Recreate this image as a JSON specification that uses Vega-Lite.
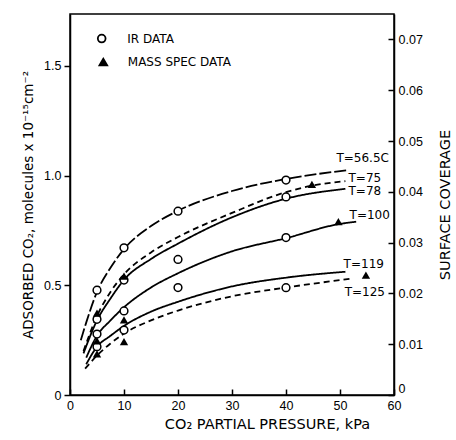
{
  "$schema": "https://vega.github.io/schema/vega-lite/v6.json",
  "width": 324,
  "height": 381,
  "autosize": "none",
  "padding": {"left": 70, "top": 14, "right": 62, "bottom": 45},
  "background": "white",
  "config": {
    "view": {"stroke": "black", "strokeWidth": 1.5},
    "axis": {
      "domainColor": "black", "domainWidth": 1.5, "tickColor": "black", "tickWidth": 1.5,
      "labelColor": "black", "titleColor": "black", "labelFont": "Liberation Sans",
      "titleFont": "DejaVu Sans", "titleFontWeight": "normal", "labelFontSize": 12.5,
      "titleFontSize": 13.5, "grid": false
    },
    "text": {"font": "DejaVu Sans", "color": "black"}
  },
  "datasets": {
    "curves": [
      {"T": "56.5", "x": 2, "y": 0.25}, {"T": "56.5", "x": 3, "y": 0.33}, {"T": "56.5", "x": 5, "y": 0.47},
      {"T": "56.5", "x": 7.5, "y": 0.58}, {"T": "56.5", "x": 10, "y": 0.665}, {"T": "56.5", "x": 15, "y": 0.77},
      {"T": "56.5", "x": 20, "y": 0.84}, {"T": "56.5", "x": 30, "y": 0.93}, {"T": "56.5", "x": 40, "y": 0.985},
      {"T": "56.5", "x": 51.5, "y": 1.025},
      {"T": "75", "x": 2.5, "y": 0.2}, {"T": "75", "x": 5, "y": 0.36}, {"T": "75", "x": 7.5, "y": 0.47},
      {"T": "75", "x": 10, "y": 0.55}, {"T": "75", "x": 15, "y": 0.65}, {"T": "75", "x": 20, "y": 0.72},
      {"T": "75", "x": 30, "y": 0.83}, {"T": "75", "x": 40, "y": 0.925}, {"T": "75", "x": 45, "y": 0.955},
      {"T": "75", "x": 51, "y": 0.975},
      {"T": "78", "x": 2.5, "y": 0.19}, {"T": "78", "x": 5, "y": 0.34}, {"T": "78", "x": 7.5, "y": 0.44},
      {"T": "78", "x": 10, "y": 0.525}, {"T": "78", "x": 15, "y": 0.62}, {"T": "78", "x": 20, "y": 0.69},
      {"T": "78", "x": 30, "y": 0.81}, {"T": "78", "x": 40, "y": 0.895}, {"T": "78", "x": 51, "y": 0.94},
      {"T": "100", "x": 3, "y": 0.17}, {"T": "100", "x": 5, "y": 0.27}, {"T": "100", "x": 7.5, "y": 0.34},
      {"T": "100", "x": 10, "y": 0.4}, {"T": "100", "x": 15, "y": 0.49}, {"T": "100", "x": 20, "y": 0.555},
      {"T": "100", "x": 30, "y": 0.655}, {"T": "100", "x": 40, "y": 0.715}, {"T": "100", "x": 50, "y": 0.78},
      {"T": "100", "x": 53, "y": 0.79},
      {"T": "119", "x": 3, "y": 0.14}, {"T": "119", "x": 5, "y": 0.22}, {"T": "119", "x": 7.5, "y": 0.27},
      {"T": "119", "x": 10, "y": 0.315}, {"T": "119", "x": 15, "y": 0.38}, {"T": "119", "x": 20, "y": 0.425},
      {"T": "119", "x": 30, "y": 0.495}, {"T": "119", "x": 40, "y": 0.535}, {"T": "119", "x": 51, "y": 0.562},
      {"T": "125", "x": 2.8, "y": 0.12}, {"T": "125", "x": 5, "y": 0.18}, {"T": "125", "x": 7.5, "y": 0.235},
      {"T": "125", "x": 10, "y": 0.28}, {"T": "125", "x": 15, "y": 0.34}, {"T": "125", "x": 20, "y": 0.385},
      {"T": "125", "x": 30, "y": 0.45}, {"T": "125", "x": 40, "y": 0.49}, {"T": "125", "x": 52, "y": 0.53}
    ],
    "ir": [
      {"x": 5, "y": 0.478}, {"x": 5, "y": 0.345}, {"x": 5, "y": 0.278}, {"x": 5, "y": 0.22},
      {"x": 10, "y": 0.671}, {"x": 10, "y": 0.524}, {"x": 10, "y": 0.383}, {"x": 10, "y": 0.296},
      {"x": 20, "y": 0.838}, {"x": 20, "y": 0.618}, {"x": 20, "y": 0.49},
      {"x": 40, "y": 0.98}, {"x": 40, "y": 0.903}, {"x": 40, "y": 0.718}, {"x": 40, "y": 0.489}
    ],
    "ms": [
      {"x": 5, "y": 0.373}, {"x": 5, "y": 0.247}, {"x": 5, "y": 0.187},
      {"x": 10, "y": 0.542}, {"x": 10, "y": 0.342}, {"x": 10, "y": 0.243},
      {"x": 44.8, "y": 0.96}, {"x": 49.7, "y": 0.79}, {"x": 54.8, "y": 0.547}
    ],
    "labels": [
      {"x": 54.2, "y": 1.08, "t": "T=56.5C"},
      {"x": 54.6, "y": 0.989, "t": "T=75"},
      {"x": 54.6, "y": 0.931, "t": "T=78"},
      {"x": 55.5, "y": 0.82, "t": "T=100"},
      {"x": 54.4, "y": 0.597, "t": "T=119"},
      {"x": 54.6, "y": 0.471, "t": "T=125"}
    ],
    "legend": [
      {"x": 5.87, "y": 1.625, "shape": "circle"},
      {"x": 6.17, "y": 1.518, "shape": "triangle-up"}
    ],
    "legendtext": [
      {"x": 10.6, "y": 1.625, "t": "IR DATA"},
      {"x": 10.7, "y": 1.518, "t": "MASS SPEC DATA"}
    ],
    "cov": [{"c": 0}, {"c": 0.075}]
  },
  "layer": [
    {
      "encoding": {
        "x": {"field": "x", "type": "quantitative", "scale": {"domain": [0, 60], "nice": false},
          "axis": {"title": "CO₂ PARTIAL PRESSURE, kPa", "values": [0, 10, 20, 30, 40, 50, 60],
            "tickSize": -6, "labelPadding": 10, "titlePadding": 6, "titleX": 197, "titleFontSize": 14.5, "labelFlush": false}},
        "y": {"field": "y", "type": "quantitative", "scale": {"domain": [0, 1.737], "nice": false},
          "axis": {"title": "ADSORBED CO₂, molecules x 10⁻¹⁵cm⁻²", "values": [0, 0.5, 1, 1.5],
            "labelExpr": "datum.value == 0 ? '0' : format(datum.value, '.1f')",
            "tickSize": 6, "labelPadding": 3, "titlePadding": 8, "labelFlush": false}}
      },
      "layer": [
        {
          "data": {"name": "curves"},
          "mark": {"type": "line", "interpolate": "monotone", "color": "black", "strokeWidth": 1.8},
          "encoding": {
            "detail": {"field": "T"},
            "strokeDash": {"field": "T", "type": "nominal", "legend": null,
              "scale": {"domain": ["56.5", "75", "78", "100", "119", "125"],
                "range": [[12, 3], [6, 4], [1, 0], [1, 0], [1, 0], [6, 4]]}},
            "order": {"field": "x", "type": "quantitative"}
          }
        },
        {
          "data": {"name": "ir"},
          "mark": {"type": "point", "shape": "circle", "filled": true, "fill": "white", "stroke": "black", "strokeWidth": 1.5, "size": 60, "opacity": 1}
        },
        {
          "data": {"name": "ms"},
          "mark": {"type": "point", "shape": "triangle-up", "filled": true, "color": "black", "size": 70, "opacity": 1}
        },
        {
          "data": {"name": "labels"},
          "mark": {"type": "text", "fontSize": 12, "align": "center", "baseline": "middle"},
          "encoding": {"text": {"field": "t"}}
        },
        {
          "data": {"name": "legend"},
          "mark": {"type": "point", "strokeWidth": 1.8, "size": 60, "opacity": 1, "stroke": "black"},
          "encoding": {
            "shape": {"field": "shape", "type": "nominal", "scale": null, "legend": null},
            "fill": {"condition": {"test": "datum.shape == 'circle'", "value": "white"}, "value": "black"}
          }
        },
        {
          "data": {"name": "legendtext"},
          "mark": {"type": "text", "fontSize": 12, "align": "left", "baseline": "middle"},
          "encoding": {"text": {"field": "t"}}
        }
      ]
    },
    {
      "data": {"name": "cov"},
      "mark": {"type": "point", "opacity": 0},
      "encoding": {
        "y": {"field": "c", "type": "quantitative", "scale": {"domain": [0, 0.075], "nice": false},
          "axis": {"orient": "right", "title": "SURFACE COVERAGE", "values": [0, 0.01, 0.02, 0.03, 0.04, 0.05, 0.06, 0.07],
            "labelExpr": "datum.value == 0 ? '0' : format(datum.value, '.2f')",
            "labelBaseline": {"condition": {"test": "datum.value == 0", "value": "bottom"}, "value": "middle"},
            "tickSize": -6, "labelPadding": 10, "titlePadding": 30, "titleAngle": 270, "titleFontSize": 14.5, "labelFlush": false}}
      }
    }
  ],
  "resolve": {"scale": {"y": "independent"}}
}
